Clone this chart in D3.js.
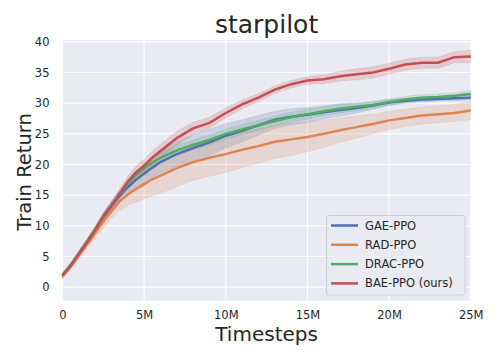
<!DOCTYPE html>
<html>
<head>
<meta charset="utf-8">
<script src="https://cdn.jsdelivr.net/npm/d3@7"></script>
<style>
  body { margin: 0; background: #ffffff; }
  text { font-family: "DejaVu Sans", sans-serif; }
</style>
</head>
<body>
<div class="chart"></div>
<script>
// timesteps in millions
const steps = [0, 0.5, 1, 1.5, 2, 2.5, 3, 3.5, 4, 4.5, 5, 5.5, 6, 7, 8, 9, 10, 11, 12, 13, 14, 15, 16, 17, 18, 19, 20, 21, 22, 23, 24, 25]

// mean returns per method
const gaeMean  = [1.9, 3.5, 5.4, 7.3, 9.3, 11.4, 13.2, 14.9, 16.3, 17.5, 18.5, 19.5, 20.4, 21.7, 22.7, 23.6, 24.7, 25.5, 26.4, 27.3, 27.8, 28.1, 28.5, 28.9, 29.2, 29.6, 30.1, 30.4, 30.6, 30.7, 30.8, 30.9]
const radMean  = [1.9, 3.4, 5.2, 7.0, 8.8, 10.7, 12.4, 14.0, 15.1, 16.0, 16.8, 17.6, 18.2, 19.4, 20.4, 21.1, 21.7, 22.4, 23.0, 23.7, 24.1, 24.5, 25.0, 25.6, 26.1, 26.6, 27.2, 27.6, 28.0, 28.2, 28.4, 28.8]
const dracMean = [1.9, 3.6, 5.5, 7.4, 9.4, 11.6, 13.4, 15.2, 16.9, 18.3, 19.4, 20.3, 21.1, 22.3, 23.2, 24.0, 25.0, 25.7, 26.4, 27.1, 27.7, 28.2, 28.7, 29.1, 29.4, 29.7, 30.2, 30.6, 30.9, 31.0, 31.2, 31.5]
const baeMean  = [1.9, 3.5, 5.4, 7.3, 9.3, 11.5, 13.3, 15.2, 17.2, 18.7, 19.8, 21.1, 22.2, 24.3, 25.9, 26.8, 28.4, 29.8, 30.9, 32.2, 33.1, 33.7, 33.9, 34.4, 34.7, 35.0, 35.6, 36.3, 36.6, 36.6, 37.5, 37.6]

// half width of shaded bands
const gaeBand  = [0.4, 0.4, 0.5, 0.5, 0.6, 0.7, 0.8, 0.9, 1.0, 1.2, 1.4, 1.6, 1.8, 2.0, 2.1, 2.1, 2.0, 1.8, 1.6, 1.4, 1.3, 1.2, 1.1, 1.0, 0.8, 0.6, 0.5, 0.4, 0.4, 0.4, 0.4, 0.4]
const radBand  = [0.4, 0.5, 0.6, 0.7, 0.8, 1.0, 1.2, 1.5, 1.8, 2.1, 2.4, 2.7, 2.9, 3.0, 3.0, 3.0, 3.0, 2.9, 2.8, 2.7, 2.6, 2.4, 2.2, 2.0, 1.8, 1.6, 1.5, 1.4, 1.4, 1.4, 1.4, 1.5]
const dracBand = [0.4, 0.4, 0.4, 0.5, 0.5, 0.5, 0.6, 0.6, 0.7, 0.7, 0.8, 0.8, 0.8, 0.8, 0.8, 0.8, 0.8, 0.8, 0.8, 0.8, 0.8, 0.8, 0.7, 0.7, 0.6, 0.6, 0.5, 0.5, 0.5, 0.5, 0.5, 0.6]
const baeBand  = [0.4, 0.4, 0.5, 0.5, 0.6, 0.6, 0.7, 0.8, 0.9, 1.0, 1.0, 1.1, 1.1, 1.1, 1.0, 0.9, 0.8, 0.7, 0.6, 0.6, 0.6, 0.6, 0.7, 0.8, 0.9, 0.9, 0.9, 0.9, 0.9, 0.9, 0.9, 1.0]

const names = ["GAE-PPO", "RAD-PPO", "DRAC-PPO", "BAE-PPO (ours)"]
const colors = ["#4c72b0", "#dd8452", "#55a868", "#c44e52"]
const xTicks = [0, 5, 10, 15, 20, 25]
const xTickLabels = ["0", "5M", "10M", "15M", "20M", "25M"]
const yTicks = [0, 5, 10, 15, 20, 25, 30, 35, 40]

const series = [
  [gaeMean, gaeBand],
  [radMean, radBand],
  [dracMean, dracBand],
  [baeMean, baeBand]
]

// plot box
const width = 498
const height = 360
const plotLeft = 62.5
const plotRight = 470.7
const plotTop = 40
const plotBottom = 300.7

const svg = d3.select(".chart")
  .append("svg")
  .attr("width", width)
  .attr("height", height)

const xScale = d3.scaleLinear().domain([0, 25]).range([plotLeft, plotRight])
const yScale = d3.scaleLinear().domain([-2.2, 40.3]).range([plotBottom, plotTop])

// plot background
svg.append("rect")
  .attr("x", plotLeft)
  .attr("y", plotTop)
  .attr("width", plotRight - plotLeft)
  .attr("height", plotBottom - plotTop)
  .attr("fill", "#eaeaf2")

// grid lines
svg.selectAll(".hgrid")
  .data(yTicks)
  .enter()
  .append("line")
  .attr("x1", plotLeft)
  .attr("x2", plotRight)
  .attr("y1", (d) => yScale(d))
  .attr("y2", (d) => yScale(d))
  .attr("stroke", "#ffffff")
  .attr("stroke-width", 1)

svg.selectAll(".vgrid")
  .data(xTicks)
  .enter()
  .append("line")
  .attr("x1", (d) => xScale(d))
  .attr("x2", (d) => xScale(d))
  .attr("y1", plotTop)
  .attr("y2", plotBottom)
  .attr("stroke", "#ffffff")
  .attr("stroke-width", 1)

// bands then lines
const area = d3.area()
  .x((d) => xScale(d[0]))
  .y0((d) => yScale(d[1] - d[2]))
  .y1((d) => yScale(d[1] + d[2]))

const line = d3.line()
  .x((d) => xScale(d[0]))
  .y((d) => yScale(d[1]))

series.forEach((s, i) => {
  const pts = steps.map((t, j) => [t, s[0][j], s[1][j]])
  svg.append("path")
    .attr("d", area(pts))
    .attr("fill", colors[i])
    .attr("fill-opacity", 0.2)
    .attr("stroke", colors[i])
    .attr("stroke-opacity", 0.15)
})

series.forEach((s, i) => {
  const pts = steps.map((t, j) => [t, s[0][j], s[1][j]])
  svg.append("path")
    .attr("d", line(pts))
    .attr("fill", "none")
    .attr("stroke", colors[i])
    .attr("stroke-width", 2.5)
})

// x-axis
const xAxis = d3.axisBottom(xScale)
  .tickValues(xTicks)
  .tickFormat((d, i) => xTickLabels[i])
  .tickSize(0)
  .tickPadding(10)
const gx = svg.append("g")
  .attr("transform", "translate(0," + plotBottom + ")")
  .call(xAxis)
gx.select(".domain").remove()
gx.selectAll("text").attr("font-size", 11.5).attr("fill", "#262626")

// y-axis
const yAxis = d3.axisLeft(yScale)
  .tickValues(yTicks)
  .tickSize(0)
  .tickPadding(13)
const gy = svg.append("g")
  .attr("transform", "translate(" + plotLeft + ",0)")
  .call(yAxis)
gy.select(".domain").remove()
gy.selectAll("text").attr("font-size", 11.5).attr("fill", "#262626")

// title
svg.append("text")
  .attr("x", (plotLeft + plotRight) / 2)
  .attr("y", 33)
  .attr("text-anchor", "middle")
  .attr("font-size", 25)
  .attr("fill", "#262626")
  .text("starpilot")

// axis labels
svg.append("text")
  .attr("x", (plotLeft + plotRight) / 2)
  .attr("y", 340.5)
  .attr("text-anchor", "middle")
  .attr("font-size", 20)
  .attr("fill", "#262626")
  .text("Timesteps")

svg.append("text")
  .attr("transform", "translate(31,172) rotate(-90)")
  .attr("text-anchor", "middle")
  .attr("font-size", 19.5)
  .attr("fill", "#262626")
  .text("Train Return")

// legend
const legend = svg.append("g")
legend.append("rect")
  .attr("x", 326.5)
  .attr("y", 215.5)
  .attr("width", 138.5)
  .attr("height", 79.5)
  .attr("rx", 3)
  .attr("fill", "#eaeaf2")
  .attr("fill-opacity", 0.8)
  .attr("stroke", "#cccccc")

names.forEach((n, i) => {
  const ly = 225.5 + i * 19.3
  legend.append("line")
    .attr("x1", 331)
    .attr("x2", 358)
    .attr("y1", ly)
    .attr("y2", ly)
    .attr("stroke", colors[i])
    .attr("stroke-width", 2.5)
  legend.append("text")
    .attr("x", 365)
    .attr("y", ly + 4)
    .attr("font-size", 11.5)
    .attr("fill", "#262626")
    .text(n)
})
</script>
</body>
</html>
